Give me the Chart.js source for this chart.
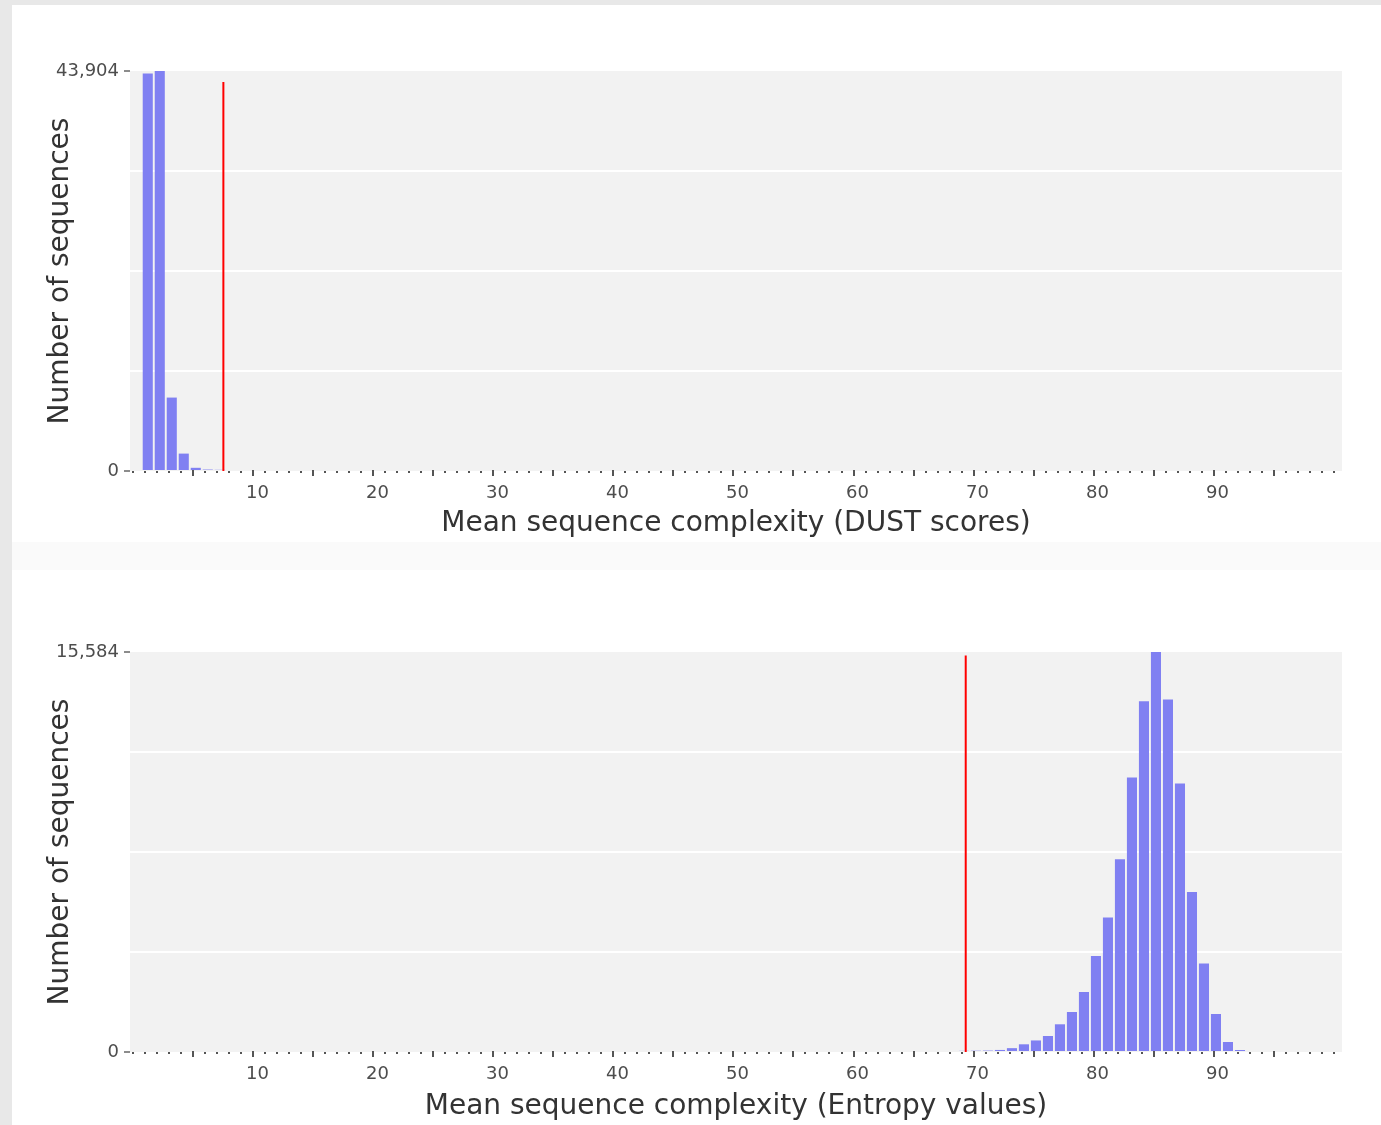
<!DOCTYPE html>
<html>
<head>
<meta charset="utf-8">
<script src="https://cdn.jsdelivr.net/npm/chart.js@4"></script>
<style>
  body { margin: 0; background: #e8e8e8; width: 1381px; height: 1125px; overflow: hidden; position: relative; }
  .panel { position: absolute; left: 12px; width: 1369px; background: #fff; }
  #p1 { top: 5px; height: 537px; }
  #p2 { top: 570px; height: 555px; }
  #strip { position: absolute; left: 12px; top: 542px; width: 1369px; height: 28px; background: #fafafa; }
</style>
</head>
<body>
<div class="panel" id="p1"><canvas id="dustChart"></canvas></div>
<div id="strip"></div>
<div class="panel" id="p2"><canvas id="entropyChart"></canvas></div>
<script>
// DUST scores histogram
const dustBins = [1, 2, 3, 4, 5, 6, 7];
const dustCounts = [43620, 43904, 8060, 1910, 350, 160, 130];
const dustMax = 43904;
const dustCutoff = 7.5;
const dustCutoffTop = 42700;

// Entropy values histogram
const entropyBins = [68, 69, 70, 71, 72, 73, 74, 75, 76, 77, 78, 79, 80,
  81, 82, 83, 84, 85, 86, 87, 88, 89, 90, 91, 92];
const entropyCounts = [40, 45, 50, 55, 80, 150, 300, 450, 623, 1080, 1558, 2338, 3740,
  5236, 7507, 10690, 13663, 15584, 13730, 10457, 6234, 3444, 1480, 390, 78];
const entropyMax = 15584;
const entropyCutoff = 69.35;
const entropyCutoffTop = 15450;

const xTickLabels = [10, 20, 30, 40, 50, 60, 70, 80, 90];

const FONT = 'DejaVu Sans';
const binShift = 0.2;

const plotBackground = {
  id: 'plotBackground',
  beforeDraw(chart) {
    const { ctx, chartArea: a } = chart;
    ctx.save();
    ctx.fillStyle = '#f2f2f2';
    ctx.fillRect(a.left, a.top, a.right - a.left, a.bottom - a.top);
    ctx.restore();
  }
};

// dotted axis line: a dot per unit, a short tick every 5
const dottedAxis = {
  id: 'dottedAxis',
  afterDatasetsDraw(chart) {
    const { ctx, chartArea: a, scales: { x } } = chart;
    ctx.save();
    ctx.fillStyle = '#555';
    for (let v = 0; v <= 100; v++) {
      const px = Math.round(x.getPixelForValue(v));
      if (v % 5 === 0 && v > 0 && v < 100) {
        ctx.fillRect(px - 1, a.bottom - 1, 2, 6);
      } else {
        ctx.fillRect(px - 1, a.bottom, 2, 2);
      }
    }
    ctx.restore();
  }
};

function makeChart(id, bins, counts, max, cutoff, cutoffTop, title, topPad, axisHeight) {
  const ctx = document.getElementById(id).getContext('2d');
  return new Chart(ctx, {
    type: 'bar',
    data: {
      datasets: [
        {
          type: 'line',
          data: [{ x: cutoff, y: 0 }, { x: cutoff, y: cutoffTop }],
          borderColor: '#ff0000',
          borderWidth: 2,
          pointRadius: 0,
          fill: false
        },
        {
          data: bins.map((b, i) => ({ x: b + binShift, y: counts[i] })),
          backgroundColor: 'rgb(128,128,242)',
          borderWidth: 0,
          barPercentage: 0.84,
          categoryPercentage: 1
        }
      ]
    },
    options: {
      responsive: true,
      maintainAspectRatio: false,
      animation: false,
      layout: { padding: { left: 28, right: 39, top: topPad, bottom: 0 } },
      plugins: { legend: { display: false }, tooltip: { enabled: false } },
      scales: {
        x: {
          type: 'linear',
          offset: false,
          min: -0.28,
          max: 100.7,
          afterFit(scale) { scale.height = axisHeight; },
          border: { display: false },
          grid: { display: false, drawTicks: false },
          ticks: {
            stepSize: 1,
            autoSkip: false,
            includeBounds: false,
            maxRotation: 0,
            padding: 12,
            labelOffset: 4,
            color: '#4d4d4d',
            font: { family: FONT, size: 18 },
            callback: v => xTickLabels.includes(v) ? String(v) : ''
          },
          title: {
            display: true,
            text: title,
            color: '#333',
            font: { family: FONT, size: 28 },
            padding: { top: 4, bottom: 1 }
          }
        },
        y: {
          min: 0,
          max: max,
          afterBuildTicks(scale) {
            scale.ticks = [0, 1, 2, 3, 4].map(i => ({ value: max * i / 4 }));
          },
          afterFit(scale) { scale.width = 90; },
          border: { display: false },
          grid: {
            color: c => (c.index > 0 && c.index < 4) ? '#ffffff' : 'rgba(0,0,0,0)',
            lineWidth: 2,
            tickLength: 6,
            tickWidth: 1.5,
            tickColor: c => (c.index === 0 || c.index === 4) ? '#666' : 'rgba(0,0,0,0)'
          },
          ticks: {
            padding: 5,
            color: '#4d4d4d',
            font: { family: FONT, size: 18 },
            callback: (v, i) => (i === 0 || i === 4) ? v.toLocaleString('en-US') : ''
          },
          title: {
            display: true,
            text: 'Number of sequences',
            color: '#333',
            font: { family: FONT, size: 28 },
            padding: { top: 4, bottom: 4 }
          }
        }
      }
    },
    plugins: [plotBackground, dottedAxis]
  });
}

makeChart('dustChart', dustBins, dustCounts, dustMax, dustCutoff, dustCutoffTop,
  'Mean sequence complexity (DUST scores)', 66, 71);
makeChart('entropyChart', entropyBins, entropyCounts, entropyMax, entropyCutoff, entropyCutoffTop,
  'Mean sequence complexity (Entropy values)', 82, 73);
</script>
</body>
</html>
